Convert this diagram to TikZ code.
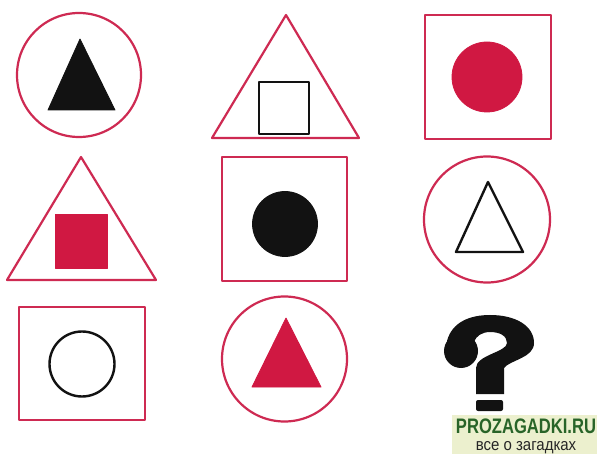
\documentclass[tikz,border=0pt]{standalone}
\usepackage{graphicx}
\usepackage{fontspec}
\setmainfont{Liberation Sans}
\definecolor{rimred}{RGB}{206,42,82}
\definecolor{fillred}{RGB}{208,24,66}
\definecolor{inkblack}{RGB}{18,18,18}
\definecolor{wmback}{RGB}{236,240,206}
\definecolor{wmgreen}{RGB}{40,100,40}
\begin{document}
\begin{tikzpicture}[x=1pt,y=-1pt,
  rim/.style={draw=rimred,line width=2.2pt},
  blackfill/.style={fill=inkblack,draw=inkblack,line width=0.8pt},
  redfill/.style={fill=fillred,draw=fillred,line width=0.8pt},
  blackline/.style={draw=inkblack,line width=2.4pt},
  line join=round]
\useasboundingbox (0,0) rectangle (597,454);
\fill[white] (0,0) rectangle (597,454);
% row 1
\draw[rim] (79,75) circle[radius=62];
\path[blackfill] (80,39) -- (48,110) -- (115,110) -- cycle;
\draw[rim] (286,15) -- (212,138) -- (359,138) -- cycle;
\draw[blackline] (259,82) rectangle (309,134);
\draw[rim] (425,15) rectangle (551,139);
\path[redfill] (487,77) circle[radius=35];
% row 2
\draw[rim] (81,157) -- (7,280) -- (156,280) -- cycle;
\path[redfill] (55,214) rectangle (107,268);
\draw[rim] (222,157) rectangle (347,281);
\path[blackfill] (285,224) circle[radius=32.5];
\draw[rim] (487,219.5) circle[radius=63];
\draw[blackline] (488,182) -- (456,252) -- (523,252) -- cycle;
% row 3
\draw[rim] (19,307) rectangle (145,420);
\draw[blackline] (82,364) circle[radius=32.5];
\draw[rim] (284.5,359) circle[radius=62.5];
\path[redfill] (286,318) -- (252,387) -- (321,387) -- cycle;
% question mark
\fill[inkblack]
  (447,341) .. controls (452,322) and (470,315) .. (490,315)
  .. controls (516,315) and (534,326) .. (534,343)
  .. controls (534,358) and (510,360) .. (504,368)
  -- (504,394) -- (476,394) -- (476,368)
  .. controls (476,355) and (507,352) .. (507,343)
  .. controls (507,336) and (500,332) .. (490,332)
  .. controls (482,332) and (476,336) .. (474,342)
  -- cycle;
\fill[inkblack] (461,351) circle[radius=17];
\fill[inkblack,rounded corners=2pt] (476,400) rectangle (503,411);
% watermark
\fill[wmback] (452,415) rectangle (597,454);
\node[anchor=base,inner sep=0pt,text=wmgreen,font=\bfseries\fontsize{21}{21}\selectfont] (wmtitle) at (526,433.5) {\scalebox{0.79}[1]{PROZAGADKI.RU}};
\node[anchor=base,inner sep=0pt,text=black!85,font=\fontsize{15}{15}\selectfont] (wmsub) at (526,450.5) {\scalebox{1.0}[1.12]{все о загадках}};
\end{tikzpicture}
\end{document}
